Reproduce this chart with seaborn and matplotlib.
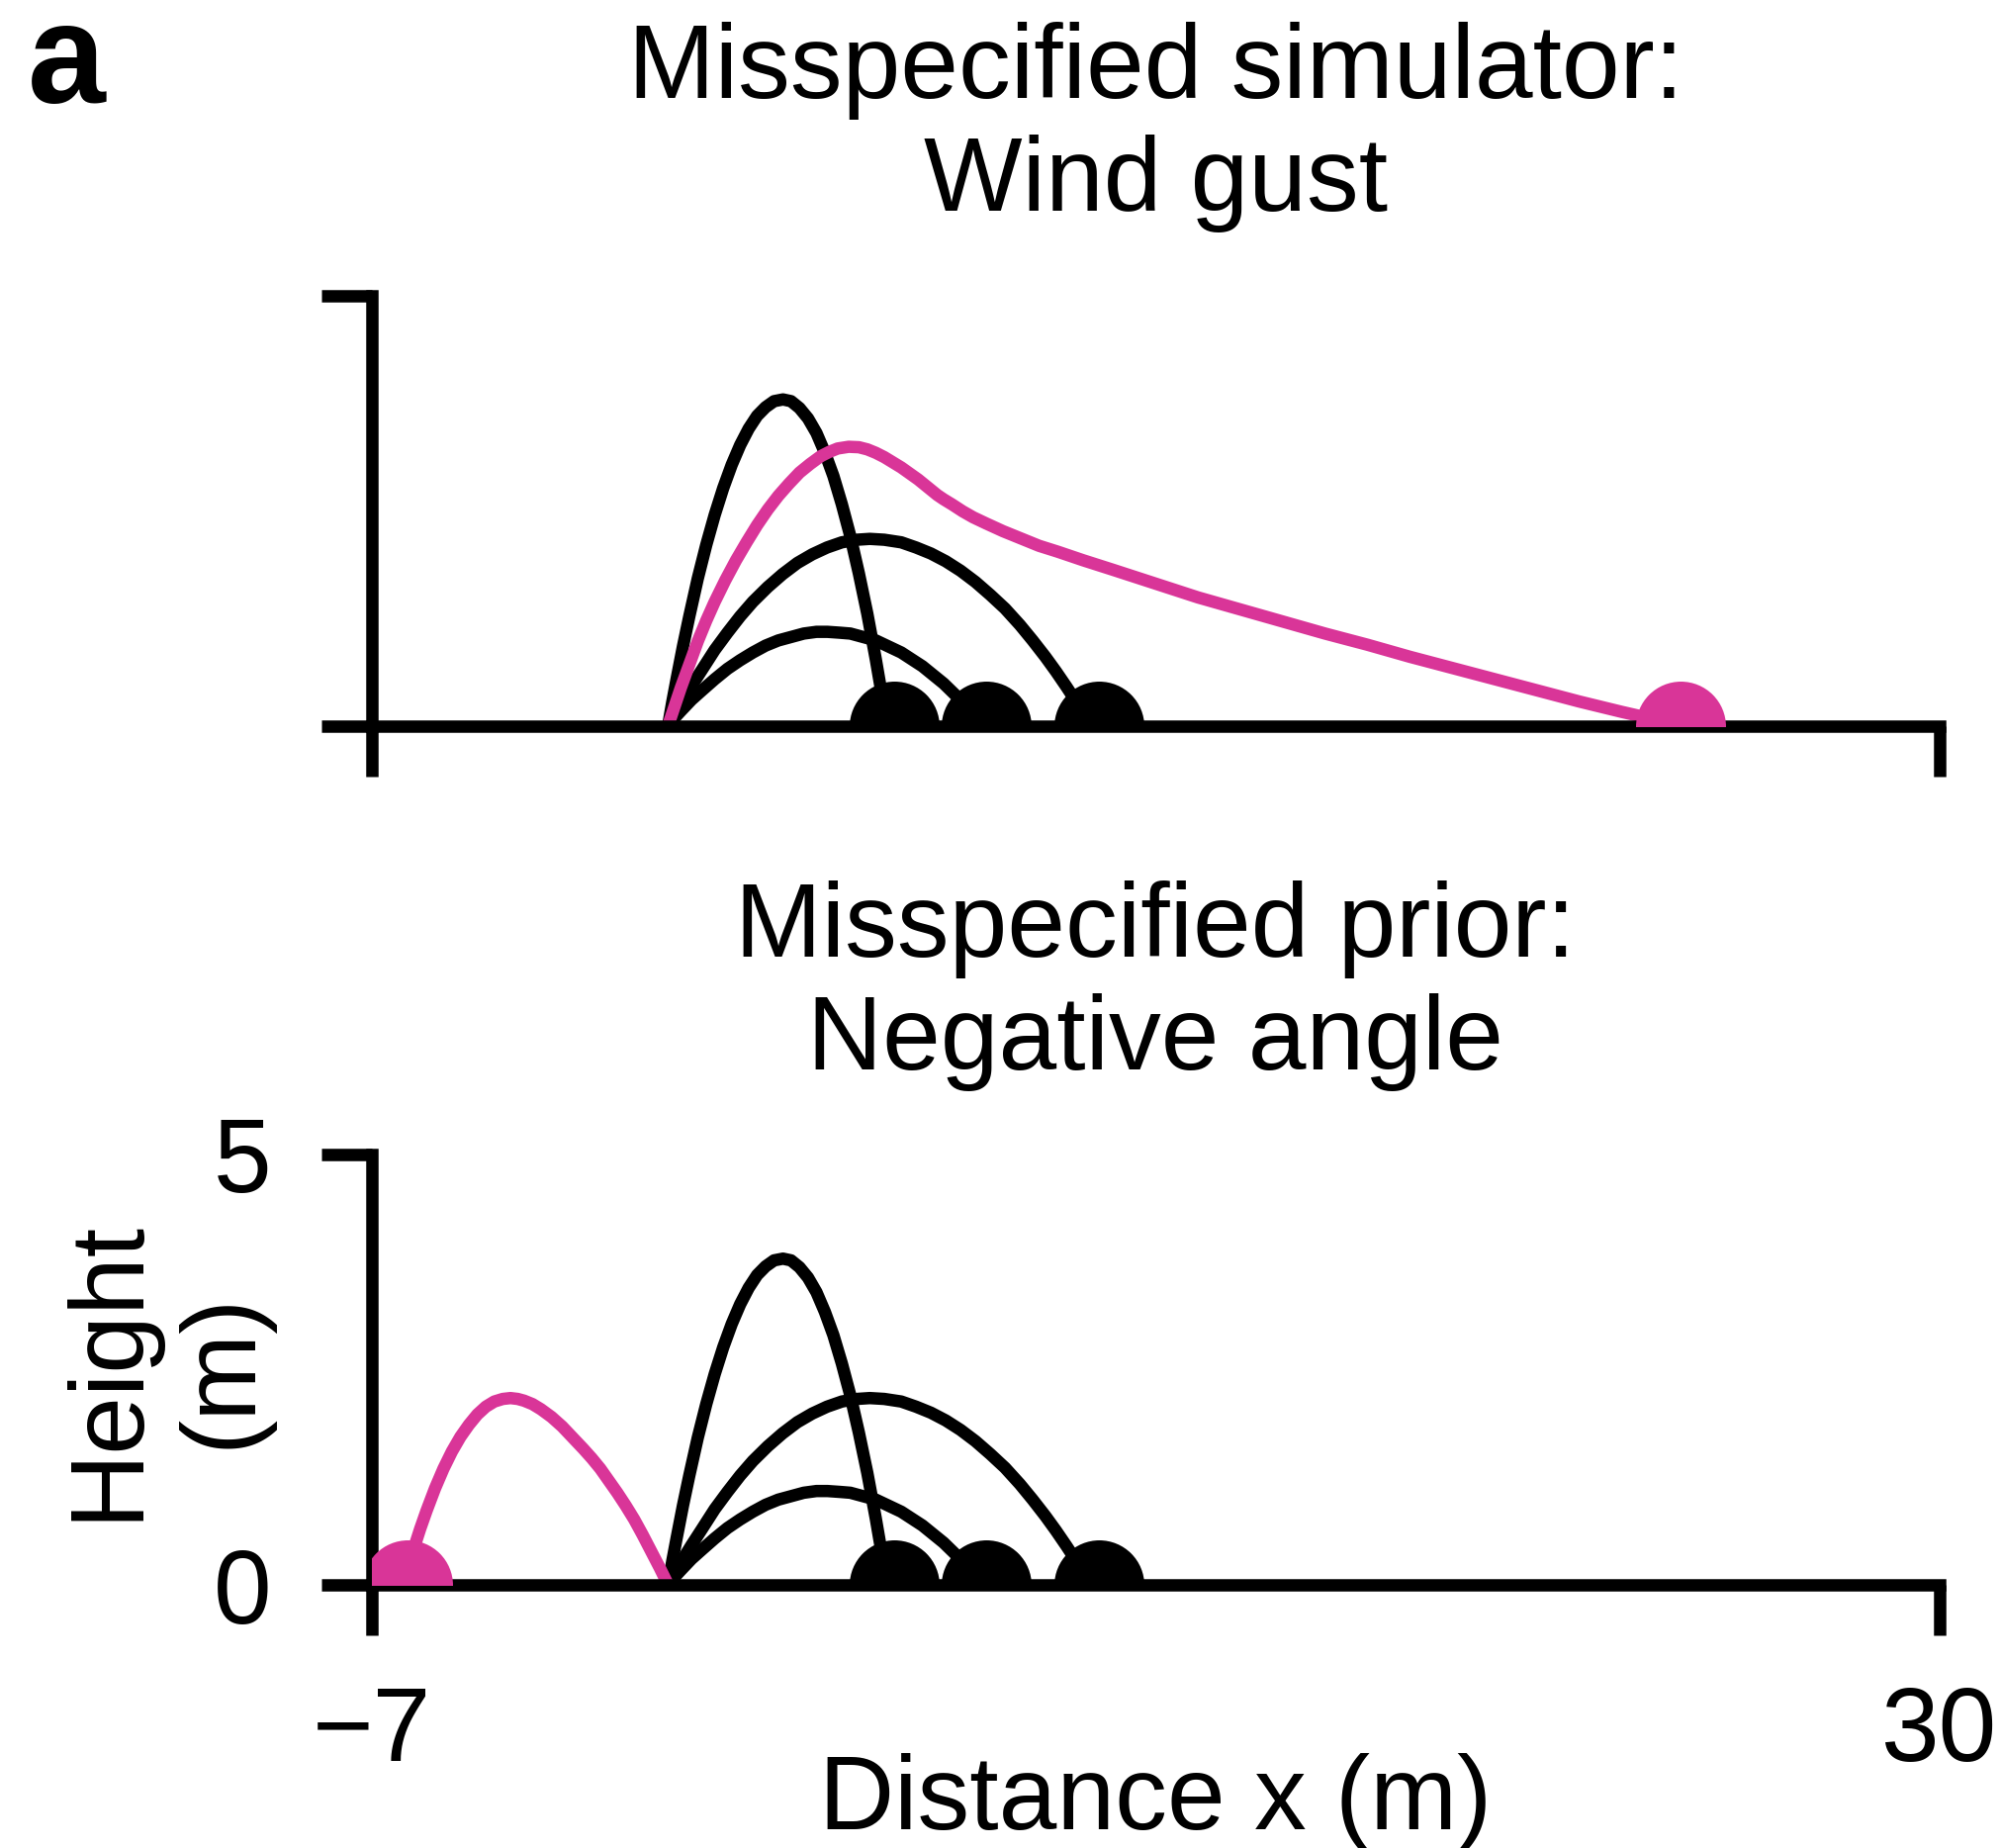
import matplotlib
matplotlib.use("Agg")
import matplotlib.pyplot as plt
import seaborn as sns

# ---------------- data ----------------
# black trajectories (same in both panels)
arc_tall_x = [0, 0.1, 0.2, 0.35, 0.5, 0.7, 0.9, 1.1, 1.3, 1.5, 1.7, 1.9, 2.1, 2.3, 2.5, 2.71,
              2.9, 3.1, 3.3, 3.5, 3.7, 3.9, 4.1, 4.3, 4.5, 4.7, 4.9, 5.05, 5.16]
arc_tall_y = [0, 0.28, 0.54, 0.92, 1.27, 1.71, 2.10, 2.45, 2.76, 3.03, 3.26, 3.45, 3.60, 3.70, 3.77, 3.79,
              3.77, 3.69, 3.57, 3.40, 3.17, 2.90, 2.57, 2.20, 1.77, 1.30, 0.77, 0.34, 0]
arc_mid_x = [0, 0.15, 0.3, 0.55, 0.8, 1.1, 1.4, 1.7, 2.0, 2.35, 2.7, 3.05, 3.4, 3.75, 4.1, 4.45, 4.76,
             5.1, 5.5, 5.85, 6.2, 6.55, 6.9, 7.25, 7.6, 7.95, 8.3, 8.6, 8.9, 9.15, 9.4, 9.6, 9.8, 9.97]
arc_mid_y = [0, 0.13, 0.26, 0.46, 0.65, 0.88, 1.08, 1.27, 1.44, 1.61, 1.76, 1.89, 1.99, 2.07, 2.13, 2.16, 2.17,
             2.16, 2.13, 2.07, 2.00, 1.91, 1.80, 1.67, 1.52, 1.36, 1.17, 0.99, 0.80, 0.63, 0.45, 0.30, 0.14, 0]
arc_low_x = [0, 0.15, 0.3, 0.55, 0.8, 1.1, 1.4, 1.7, 2.0, 2.3, 2.6, 2.9, 3.2, 3.5, 3.76,
             4.05, 4.3, 4.6, 4.9, 5.2, 5.5, 5.75, 6.0, 6.25, 6.5, 6.75, 7.0, 7.25, 7.45]
arc_low_y = [0, 0.09, 0.17, 0.30, 0.41, 0.54, 0.66, 0.76, 0.85, 0.93, 0.99, 1.03, 1.07, 1.09, 1.09,
             1.08, 1.07, 1.03, 0.99, 0.92, 0.85, 0.77, 0.69, 0.59, 0.49, 0.37, 0.25, 0.12, 0]
black_landing_x = [5.34, 7.50, 10.17]

# pink trajectory, misspecified simulator (wind gust)
gust_x = [0, 0.15, 0.3, 0.5, 0.7, 0.9, 1.1, 1.35, 1.6, 1.85, 2.1, 2.35, 2.6, 2.85, 3.1, 3.35, 3.6, 3.8,
          4.0, 4.26, 4.5, 4.7, 4.9, 5.1, 5.3, 5.5, 5.7, 5.9, 6.05, 6.2, 6.35, 6.5, 6.7, 6.95, 7.2,
          7.5, 7.9, 8.3, 8.75, 9.2, 9.8, 10.5, 11.5, 12.5, 13.5, 14.5, 15.5, 16.5, 17.5, 18.5,
          19.5, 20.5, 21.5, 22.5, 23.3, 23.9]
gust_y = [0, 0.22, 0.44, 0.71, 0.98, 1.22, 1.44, 1.69, 1.92, 2.13, 2.33, 2.51, 2.67, 2.81, 2.94, 3.04, 3.13, 3.18,
          3.22, 3.24, 3.235, 3.21, 3.17, 3.12, 3.06, 3.00, 2.93, 2.86, 2.80, 2.74, 2.68, 2.63, 2.57, 2.49, 2.42,
          2.35, 2.26, 2.18, 2.09, 2.02, 1.92, 1.81, 1.65, 1.49, 1.35, 1.21, 1.07, 0.94, 0.80, 0.67,
          0.54, 0.41, 0.28, 0.16, 0.07, 0]
gust_landing_x = [23.89]

# pink trajectory, misspecified prior (negative angle)
neg_x = [0, -0.2, -0.4, -0.6, -0.8, -1.0, -1.2, -1.4, -1.6, -1.8, -2.0, -2.25, -2.5, -2.75, -3.0, -3.2,
         -3.4, -3.55, -3.72, -3.9, -4.1, -4.3, -4.5, -4.7, -4.9, -5.1, -5.3, -5.5, -5.7, -5.85, -6.0,
         -6.15, -6.28]
neg_y = [0, 0.20, 0.39, 0.58, 0.76, 0.92, 1.07, 1.21, 1.35, 1.47, 1.58, 1.71, 1.84, 1.95, 2.04, 2.10,
         2.14, 2.16, 2.17, 2.16, 2.13, 2.07, 1.98, 1.86, 1.72, 1.55, 1.35, 1.12, 0.86, 0.65, 0.42,
         0.20, 0]
neg_landing_x = [-6.15]

ground_height = 0.0

titles = ["Misspecified simulator:\nWind gust", "Misspecified prior:\nNegative angle"]
x_ticks = [-7, 30]
x_tick_labels = ["\u22127", "30"]
y_ticks = [0, 5]
y_tick_labels = ["0", "5"]
x_label = "Distance x (m)"
y_label = "Height\n(m)"
panel_label = "a"

# ---------------- style ----------------
sns.set_style("ticks")
plt.rcParams["font.family"] = ["Liberation Sans", "DejaVu Sans"]

BLACK = "black"
PINK = "#d93598"
FS = 76
LW = 9
SPINE_W = 9

fig = plt.figure(figsize=(20.23, 18.68), dpi=100)
L = 375.5 / 2023
W = (1961 - 375.5) / 2023
H = 435 / 1868
ax_top = fig.add_axes([L, 1 - 733.5 / 1868, W, H])
ax_bot = fig.add_axes([L, 1 - 1602 / 1868, W, H])


def draw_panel(ax, pink_x, pink_y, pink_land, title, labels):
    for xs, ys in ((arc_tall_x, arc_tall_y), (arc_mid_x, arc_mid_y), (arc_low_x, arc_low_y)):
        sns.lineplot(x=xs, y=ys, sort=False, estimator=None, color=BLACK, linewidth=LW,
                     solid_capstyle="round", solid_joinstyle="round", ax=ax, zorder=2)
    sns.lineplot(x=pink_x, y=pink_y, sort=False, estimator=None, color=PINK, linewidth=LW,
                 solid_capstyle="round", solid_joinstyle="round", ax=ax, zorder=2.2)
    for line in ax.lines:
        line.set_linewidth(LW)
    sns.scatterplot(x=black_landing_x, y=[ground_height] * len(black_landing_x), s=4290,
                    color=BLACK, linewidth=0, ax=ax, zorder=3)
    sns.scatterplot(x=pink_land, y=[ground_height] * len(pink_land), s=4290,
                    color=PINK, linewidth=0, ax=ax, zorder=3)

    ax.set_xlim(-7, 30)
    ax.set_ylim(0, 5)
    sns.despine(ax=ax)
    for s in ("left", "bottom"):
        ax.spines[s].set_linewidth(SPINE_W)
        ax.spines[s].set_color(BLACK)
        ax.spines[s].set_capstyle("projecting")
        ax.spines[s].set_zorder(2.5)
    ax.set_xticks(x_ticks)
    ax.set_yticks(y_ticks)
    ax.tick_params(bottom=True, left=True, top=False, right=False,
                   direction="out", length=37, width=SPINE_W, pad=36, labelsize=FS,
                   color=BLACK, labelcolor=BLACK)
    if labels:
        ax.set_xticklabels(x_tick_labels)
        ax.set_yticklabels(y_tick_labels)
    else:
        ax.tick_params(labelbottom=False, labelleft=False)
    ax.set_xlabel("")
    ax.set_ylabel("")
    ax.text(0.5, 1.146, title, transform=ax.transAxes, ha="center", va="bottom",
            fontsize=FS, color=BLACK)


draw_panel(ax_top, gust_x, gust_y, gust_landing_x, titles[0], labels=False)
draw_panel(ax_bot, neg_x, neg_y, neg_landing_x, titles[1], labels=True)

ax_bot.set_xlabel(x_label, fontsize=FS, va="baseline", color=BLACK)
ax_bot.xaxis.set_label_coords(0.5, -0.568)
ax_bot.set_ylabel(y_label, fontsize=FS, color=BLACK)
ax_bot.yaxis.set_label_coords(-0.064, 0.5)

fig.text(28 / 2023, 1 - 104 / 1868, panel_label, fontsize=102, fontweight="bold",
         ha="left", va="baseline", color=BLACK)

fig.savefig("out.png", dpi=100, facecolor="white")
